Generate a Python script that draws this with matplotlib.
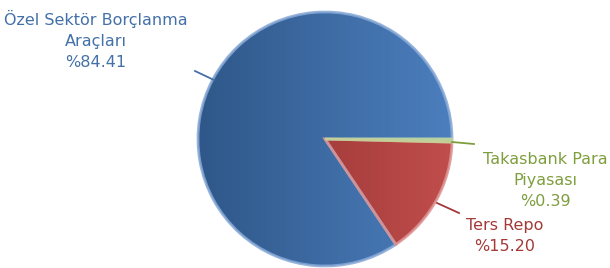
import matplotlib
matplotlib.use("Agg")
import matplotlib.pyplot as plt
import numpy as np
from matplotlib.colors import LinearSegmentedColormap

categories = ["Özel Sektör Borçlanma\nAraçları", "Ters Repo", "Takasbank Para\nPiyasası"]
values = [84.41, 15.20, 0.39]
labels = ["%84.41", "%15.20", "%0.39"]

W, H = 610, 268
fig = plt.figure(figsize=(W / 100, H / 100), dpi=100)
ax = fig.add_axes([0, 0, 1, 1])

cx, cy, R = 325, H - 139, 127
explode = [0.015, 0.01, 0]
grads = [("#2e5687", "#4d80c0"), ("#8a2b2b", "#c24f4d"), ("#7f9e40", "#a8c468")]
edges = ["#86a8d6", "#dc9190", "#c2d99a"]
text_colors = ["#4470a8", "#a33a38", "#7f9e3e"]

wedges, _ = ax.pie(values, startangle=0, counterclock=True, center=(cx, cy), radius=R,
                   explode=explode, wedgeprops=dict(linewidth=2.0))
ax.set_xlim(0, W)
ax.set_ylim(0, H)
ax.set_aspect("equal")
ax.axis("off")

for w, (c0, c1), ec in zip(wedges, grads, edges):
    cmap = LinearSegmentedColormap.from_list("g", [c0, c1])
    grad = np.linspace(0, 1, 256).reshape(1, -1)
    im = ax.imshow(grad, cmap=cmap, extent=(cx - R - 10, cx + R + 10, cy - R - 10, cy + R + 10),
                   aspect="auto", zorder=w.get_zorder() - 0.05)
    im.set_clip_path(w)
    w.set_facecolor("none")
    w.set_edgecolor(ec)
    w.set_alpha(0.85)
    w.set_zorder(im.get_zorder() + 0.01)

# leader lines (pixel coords, y from top)
lines = [((195, 71), (214, 80)), ((437, 203), (459, 213)), ((452, 142), (474, 144))]
for (p0, p1), col in zip(lines, text_colors):
    ax.plot([p0[0], p1[0]], [H - p0[1], H - p1[1]], color=col, lw=1.3, zorder=5)

ax.set_xlim(0, W)
ax.set_ylim(0, H)

fs = 11.5
text_pos = [(96, 40), (505, 236), (545, 180)]
for cat, lab, (tx, ty), col in zip(categories, labels, text_pos, text_colors):
    ax.text(tx, H - ty, cat + "\n" + lab, ha="center", va="center", color=col,
            fontsize=fs, family="DejaVu Sans", linespacing=1.5)

fig.savefig("out.png", dpi=100)
